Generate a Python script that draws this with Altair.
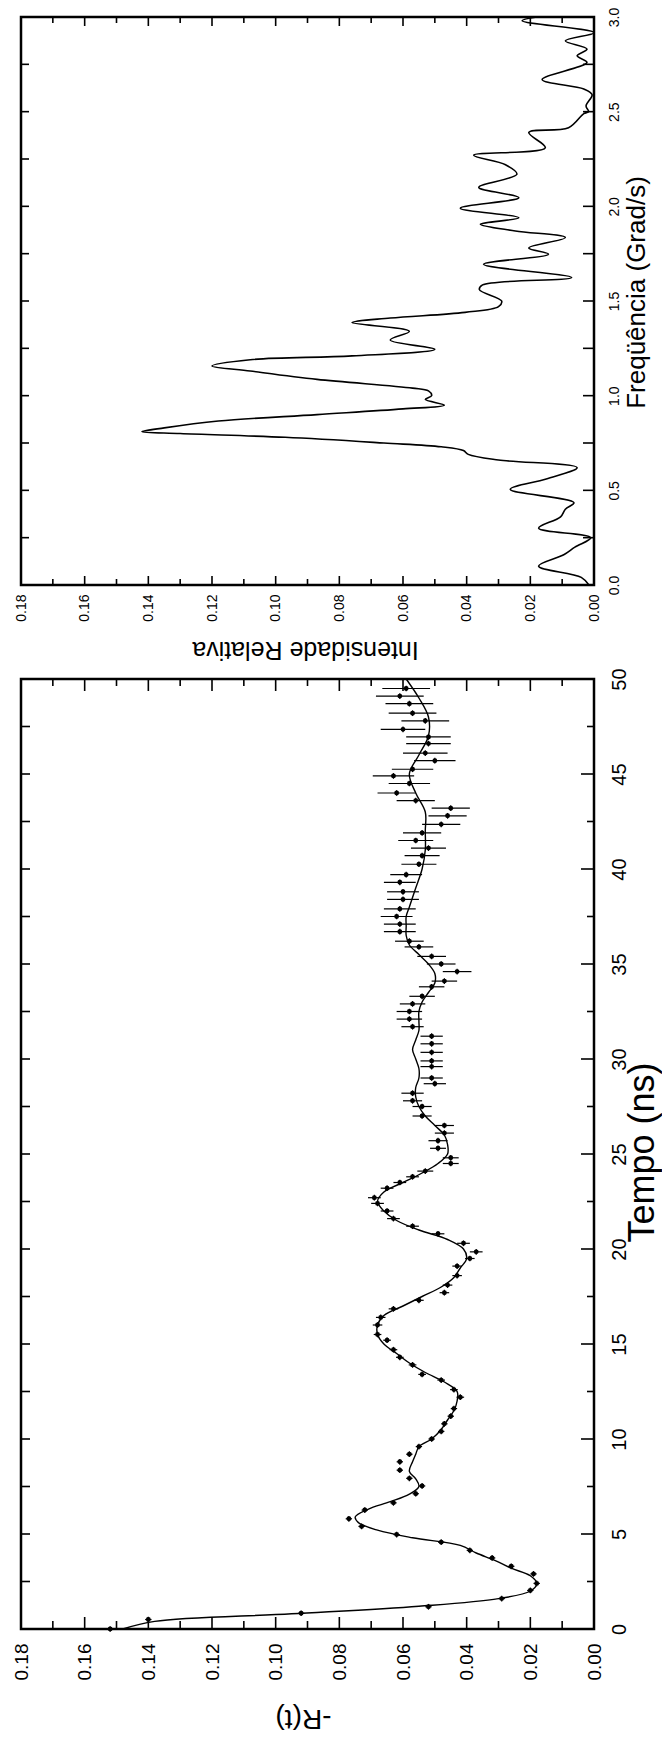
import altair as alt
import pandas as pd

FONT = "Liberation Sans"

# ---------------- bottom panel: -R(t) versus Tempo (ns) ----------------
t_pts = [0.0, 0.5, 0.83, 1.17, 1.6, 2.03, 2.4, 2.9, 3.3, 3.74,
         4.14, 4.57, 4.97, 5.4, 5.8, 6.26, 6.64, 7.12, 7.53, 7.93,
         8.36, 8.8, 9.2, 9.6, 10.0, 10.4, 10.8, 11.2, 11.6, 12.2,
         12.6, 13.1, 13.4, 13.9, 14.3, 14.7, 15.2, 15.5, 16.0, 16.4,
         16.85, 17.3, 17.7, 18.1, 18.6, 19.1, 19.5, 19.85, 20.3, 20.8,
         21.2, 21.6, 22.0, 22.4, 22.7, 23.2, 23.5, 23.8, 24.1, 24.5,
         24.8, 25.3, 25.7, 26.1, 26.5, 27.0, 27.5, 27.8, 28.2, 28.7,
         29.0, 29.6, 29.9, 30.35, 30.8, 31.2, 31.7, 32.1, 32.5, 32.9,
         33.3, 33.8, 34.1, 34.6, 35.0, 35.4, 35.9, 36.2, 36.7, 37.1,
         37.5, 37.9, 38.4, 38.8, 39.3, 39.7, 40.25, 40.7, 41.1, 41.5,
         41.9, 42.35, 42.8, 43.2, 43.6, 44.0, 44.5, 44.9, 45.25, 45.7,
         46.1, 46.6, 46.95, 47.35, 47.8, 48.2, 48.7, 49.1, 49.5]
R_pts = [0.152, 0.140, 0.092, 0.052, 0.029, 0.020, 0.018, 0.019, 0.026, 0.032,
         0.039, 0.048, 0.062, 0.073, 0.077, 0.072, 0.063, 0.056, 0.054, 0.058,
         0.061, 0.061, 0.058, 0.055, 0.051, 0.048, 0.047, 0.045, 0.044, 0.042,
         0.044, 0.048, 0.054, 0.057, 0.061, 0.063, 0.065, 0.068, 0.068, 0.067,
         0.063, 0.055, 0.047, 0.046, 0.043, 0.043, 0.039, 0.037, 0.041, 0.049,
         0.057, 0.063, 0.065, 0.068, 0.069, 0.065, 0.061, 0.057, 0.053, 0.045,
         0.045, 0.049, 0.049, 0.047, 0.047, 0.054, 0.054, 0.057, 0.057, 0.050,
         0.051, 0.051, 0.051, 0.051, 0.051, 0.051, 0.057, 0.058, 0.058, 0.057,
         0.054, 0.051, 0.047, 0.043, 0.048, 0.051, 0.055, 0.058, 0.061, 0.061,
         0.062, 0.061, 0.060, 0.060, 0.061, 0.059, 0.055, 0.054, 0.052, 0.056,
         0.054, 0.048, 0.046, 0.045, 0.056, 0.062, 0.058, 0.063, 0.057, 0.050,
         0.053, 0.052, 0.052, 0.060, 0.053, 0.057, 0.058, 0.061, 0.059]
R_err = [0.001, 0.001, 0.001, 0.001, 0.001, 0.001, 0.001, 0.001, 0.001, 0.001,
         0.001, 0.001, 0.001, 0.001, 0.001, 0.001, 0.001, 0.001, 0.001, 0.001,
         0.001, 0.001, 0.001, 0.001, 0.001, 0.001, 0.001, 0.001, 0.001, 0.0012,
         0.0012, 0.0012, 0.0012, 0.0012, 0.0012, 0.0012, 0.0012, 0.0012, 0.0015, 0.0015,
         0.0015, 0.0015, 0.0015, 0.0015, 0.0015, 0.0015, 0.0015, 0.002, 0.002, 0.002,
         0.002, 0.002, 0.002, 0.002, 0.002, 0.002, 0.002, 0.002, 0.0025, 0.0025,
         0.0025, 0.0025, 0.003, 0.003, 0.003, 0.003, 0.003, 0.003, 0.0035, 0.0035,
         0.0035, 0.0035, 0.0035, 0.0035, 0.0035, 0.0035, 0.0035, 0.004, 0.004, 0.004,
         0.004, 0.004, 0.004, 0.0045, 0.0045, 0.0045, 0.0045, 0.0045, 0.005, 0.005,
         0.005, 0.005, 0.005, 0.005, 0.005, 0.005, 0.0055, 0.0055, 0.0055, 0.0055,
         0.006, 0.006, 0.006, 0.006, 0.006, 0.006, 0.0065, 0.0065, 0.0065, 0.0065,
         0.007, 0.007, 0.007, 0.007, 0.0075, 0.0075, 0.0075, 0.0075, 0.0075]
T_HALF = 0.15

t_fit = [0.0, 0.4, 0.8, 1.2, 1.6, 2.0, 2.4, 2.8, 3.2, 3.6, 4.0, 4.4, 4.8, 5.2, 5.6,
         5.9, 6.3, 6.7, 7.1, 7.5, 7.9, 8.3, 8.8, 9.2, 9.6, 10.0, 10.5, 11.0, 11.5, 12.0,
         12.5, 13.0, 13.5, 14.0, 14.5, 15.0, 15.5, 16.0, 16.5, 17.0, 17.5, 18.0, 18.5, 19.0,
         19.5, 20.0, 20.5, 21.0, 21.5, 22.0, 22.5, 23.0, 23.5, 24.0, 24.5, 25.0, 25.5, 26.0,
         26.5, 27.0, 27.5, 28.0, 28.5, 29.0, 29.5, 30.0, 30.5, 31.0, 31.5, 32.0, 32.5, 33.0,
         33.5, 34.0, 34.5, 35.0, 35.5, 36.0, 36.5, 37.0, 37.5, 38.0, 39.0, 40.0, 41.0, 42.0,
         43.0, 44.0, 45.0, 46.0, 47.0, 48.0, 49.0, 50.0]
R_fit = [0.148, 0.138, 0.095, 0.055, 0.030, 0.020, 0.018, 0.020, 0.026, 0.031, 0.037, 0.042, 0.057, 0.068, 0.074,
         0.075, 0.071, 0.064, 0.058, 0.055, 0.056, 0.058, 0.057, 0.056, 0.055, 0.051, 0.048, 0.046, 0.044, 0.043,
         0.043, 0.047, 0.053, 0.058, 0.062, 0.066, 0.068, 0.068, 0.066, 0.060, 0.054, 0.048, 0.044, 0.042,
         0.040, 0.041, 0.046, 0.055, 0.062, 0.066, 0.068, 0.066, 0.060, 0.054, 0.049, 0.046, 0.046, 0.047,
         0.050, 0.053, 0.055, 0.056, 0.056, 0.055, 0.055, 0.056, 0.057, 0.056, 0.055, 0.055, 0.055, 0.054,
         0.052, 0.050, 0.050, 0.052, 0.055, 0.058, 0.059, 0.059, 0.059, 0.058, 0.056, 0.054, 0.053, 0.053,
         0.053, 0.056, 0.058, 0.055, 0.052, 0.052, 0.055, 0.059]

# ---------------- top panel: Intensidade Relativa versus Frequencia ----------------
f_spec = [0.00, 0.04, 0.10, 0.16, 0.20, 0.25, 0.30, 0.36, 0.40, 0.435,
          0.505, 0.56, 0.62, 0.66, 0.69, 0.71, 0.73, 0.75, 0.78, 0.80,
          0.81, 0.83, 0.866, 0.90, 0.93, 0.95, 0.98, 1.00, 1.025, 1.04,
          1.086, 1.13, 1.157, 1.19, 1.21, 1.245, 1.294, 1.34, 1.386, 1.41,
          1.44, 1.47, 1.50, 1.56, 1.585, 1.624, 1.694, 1.747, 1.78, 1.835,
          1.87, 1.905, 1.94, 1.99, 2.046, 2.10, 2.17, 2.22, 2.27, 2.31,
          2.39, 2.415, 2.49, 2.50, 2.53, 2.59, 2.62, 2.67, 2.76, 2.795,
          2.83, 2.874, 2.917, 2.98, 3.00]
I_spec = [0.0016, 0.004, 0.0174, 0.0095, 0.006, 0.0010, 0.0174, 0.0105, 0.009, 0.0063,
          0.0263, 0.015, 0.0053, 0.030, 0.0395, 0.041, 0.048, 0.066, 0.097, 0.130,
          0.142, 0.135, 0.118, 0.087, 0.060, 0.047, 0.053, 0.051, 0.052, 0.057,
          0.087, 0.108, 0.120, 0.108, 0.076, 0.050, 0.064, 0.058, 0.076, 0.064,
          0.0405, 0.030, 0.029, 0.036, 0.035, 0.007, 0.0347, 0.0143, 0.0205, 0.009,
          0.0247, 0.0357, 0.0236, 0.042, 0.0236, 0.0362, 0.0242, 0.0278, 0.0378, 0.0153,
          0.0205, 0.008, 0.0032, 0.0017, 0.0025, 0.0006, 0.0032, 0.0163, 0.0022, 0.0053,
          0.0022, 0.0090, 0.0, 0.0226, 0.018]

# axis values
R_labels = [0.00, 0.02, 0.04, 0.06, 0.08, 0.10, 0.12, 0.14, 0.16, 0.18]
R_major = [0.02, 0.04, 0.06, 0.08, 0.10, 0.12, 0.14, 0.16]
R_minor = [0.01, 0.03, 0.05, 0.07, 0.09, 0.11, 0.13, 0.15, 0.17]
T_labels = [0, 5, 10, 15, 20, 25, 30, 35, 40, 45, 50]
T_major = [5, 10, 15, 20, 25, 30, 35, 40, 45]
T_minor = [2.5, 7.5, 12.5, 17.5, 22.5, 27.5, 32.5, 37.5, 42.5, 47.5]
F_labels = [0.0, 0.5, 1.0, 1.5, 2.0, 2.5, 3.0]
F_ticks = [0.25, 0.5, 0.75, 1.0, 1.25, 1.5, 1.75, 2.0, 2.25, 2.5, 2.75]

W = 573
H1 = 568
H2 = 950

xR = alt.Scale(domain=[0, 0.18], reverse=True, nice=False, zero=False)
yT = alt.Scale(domain=[0, 50], nice=False, zero=False)
yF = alt.Scale(domain=[0, 3], nice=False, zero=False)

pts = pd.DataFrame({"t": t_pts, "R": R_pts, "err": R_err})
pts["lo"] = pts["R"] - pts["err"]
pts["hi"] = pts["R"] + pts["err"]
pts["t_lo"] = pts["t"] - T_HALF
pts["t_hi"] = pts["t"] + T_HALF
fit = pd.DataFrame({"t": t_fit, "R": R_fit})
spec = pd.DataFrame({"f": f_spec, "I": I_spec})


def xticks(values, scale, y0, y1):
    return alt.Chart(pd.DataFrame({"v": values})).mark_rule(
        color="black", strokeWidth=1.6
    ).encode(x=alt.X("v:Q", scale=scale), y=alt.value(y0), y2=alt.value(y1))


def yticks(values, scale, x0, x1):
    return alt.Chart(pd.DataFrame({"v": values})).mark_rule(
        color="black", strokeWidth=1.6
    ).encode(y=alt.Y("v:Q", scale=scale), x=alt.value(x0), x2=alt.value(x1))


# ---- top chart ----
spec_line = alt.Chart(spec).mark_line(
    color="black", strokeWidth=1.6, interpolate="catmull-rom"
).encode(
    x=alt.X("I:Q", scale=xR, axis=alt.Axis(
        orient="bottom", values=R_labels, format=".2f",
        labelAngle=270, labelAlign="right", labelBaseline="middle",
        labelFontSize=14, labelPadding=9,
        title="Intensidade Relativa", titleAngle=180, titleFontSize=25,
        titleX=284, titleY=64, titleAlign="center", titleBaseline="middle")),
    y=alt.Y("f:Q", scale=yF, axis=alt.Axis(
        orient="right", values=F_labels, format=".1f",
        labelAngle=270, labelAlign="center", labelBaseline="top",
        labelFontSize=14, labelPadding=13,
        title="Freqüência (Grad/s)", titleAngle=270, titleFontSize=26,
        titleX=42, titleY=275, titleAlign="center", titleBaseline="middle")),
    order="f:Q",
)

top = alt.layer(
    spec_line,
    xticks(R_major, xR, H1, H1 - 9),
    xticks(R_minor, xR, H1, H1 - 6),
    xticks(R_major, xR, 0, 9),
    xticks(R_minor, xR, 0, 6),
    yticks(F_ticks, yF, W, W - 11),
    yticks(F_ticks, yF, 0, 8),
).properties(width=W, height=H1)

# ---- bottom chart ----
fit_line = alt.Chart(fit).mark_line(
    color="black", strokeWidth=1.4, interpolate="catmull-rom"
).encode(
    x=alt.X("R:Q", scale=xR, axis=alt.Axis(
        orient="bottom", values=R_labels, format=".2f",
        labelAngle=270, labelAlign="right", labelBaseline="middle",
        labelFontSize=19, labelPadding=14,
        title="-R(t)", titleAngle=180, titleFontSize=28,
        titleX=282, titleY=88, titleAlign="center", titleBaseline="middle")),
    y=alt.Y("t:Q", scale=yT, axis=alt.Axis(
        orient="right", values=T_labels, format="d",
        labelAngle=270, labelAlign="center", labelBaseline="top",
        labelFontSize=20, labelPadding=15,
        title="Tempo (ns)", titleAngle=270, titleFontSize=36,
        titleX=48, titleY=473, titleAlign="center", titleBaseline="middle")),
    order="t:Q",
)

xbars = alt.Chart(pts).mark_rule(color="black", strokeWidth=1.2).encode(
    x=alt.X("lo:Q", scale=xR), x2="hi:Q",
    y=alt.Y("t:Q", scale=yT),
)
tbars = alt.Chart(pts).mark_rule(color="black", strokeWidth=1.2).encode(
    x=alt.X("R:Q", scale=xR),
    y=alt.Y("t_lo:Q", scale=yT), y2="t_hi:Q",
)
dots = alt.Chart(pts).mark_circle(color="black", size=24, opacity=1).encode(
    x=alt.X("R:Q", scale=xR),
    y=alt.Y("t:Q", scale=yT),
)

bottom = alt.layer(
    fit_line, xbars, tbars, dots,
    xticks(R_major, xR, H2, H2 - 12),
    xticks(R_minor, xR, H2, H2 - 8),
    xticks(R_major, xR, 0, 12),
    xticks(R_minor, xR, 0, 7),
    yticks(T_major, yT, W, W - 13),
    yticks(T_minor, yT, W, W - 7),
    yticks(T_major + T_minor, yT, 0, 9),
).properties(width=W, height=H2)

chart = alt.vconcat(top, bottom, spacing=94, bounds="flush").properties(
    padding={"left": 10, "top": 6, "right": 0, "bottom": 0},
    background="white",
).configure_view(
    stroke="black", strokeWidth=2.5
).configure_axis(
    grid=False, domain=False, ticks=False, tickSize=0,
    labelColor="black", titleColor="black",
    labelFont=FONT, titleFont=FONT, titleFontWeight="normal",
    labelFlush=False, labelOverlap=False,
)

chart.save("out.html", embed_options={"renderer": "svg", "actions": False})
